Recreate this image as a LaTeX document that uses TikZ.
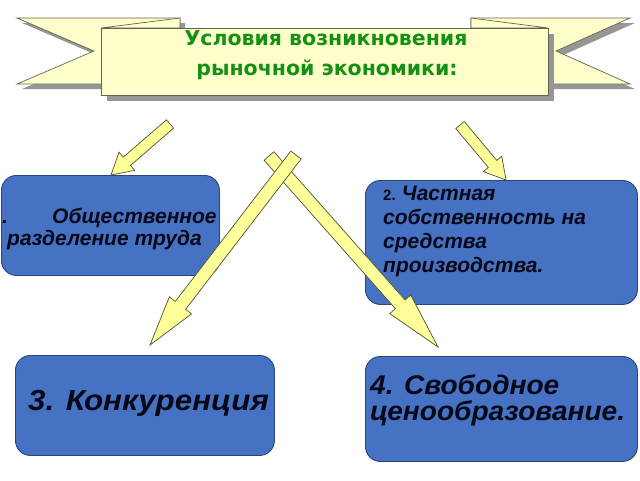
\documentclass[tikz,border=0pt]{standalone}
\usepackage{fontspec}
\setmainfont{Liberation Sans}
\newfontfamily\titlefont{DejaVu Sans}
\newfontfamily\bigfont[FakeStretch=1.08]{Liberation Sans}
\newfontfamily\wideboxfont[FakeStretch=1.04]{Liberation Sans}
\usetikzlibrary{calc}

\definecolor{boxblue}{RGB}{70,114,196}
\definecolor{boxedge}{RGB}{40,68,130}
\definecolor{arrowfill}{RGB}{255,255,153}
\definecolor{arrowedge}{RGB}{80,80,60}
\definecolor{bannerfill}{RGB}{255,255,204}
\definecolor{banneredge}{RGB}{100,100,80}
\definecolor{shadowgray}{RGB}{150,150,150}
\definecolor{titlegreen}{RGB}{20,145,20}
\definecolor{textdark}{RGB}{8,8,24}

\tikzset{
  banner/.style={fill=bannerfill, draw=banneredge, line width=0.7pt, line join=miter},
  bshadow/.style={fill=shadowgray, draw=none},
  bluebox/.style={fill=boxblue, draw=boxedge, line width=0.9pt, rounded corners=15pt, inner sep=0pt, anchor=north west},
  yarrow/.style={fill=arrowfill, draw=arrowedge, line width=0.7pt, line join=miter},
  titletext/.style={font=\titlefont\bfseries\fontsize{20.5}{28}\selectfont, text=titlegreen, inner sep=0pt, anchor=base},
  txt/.style={text=textdark, inner sep=0pt, anchor=base west},
  small/.style={txt, font=\bfseries\itshape\fontsize{21}{22}\selectfont},
  big/.style={txt, font=\bigfont\bfseries\itshape\fontsize{29}{30}\selectfont},
  wide/.style={txt, font=\wideboxfont\bfseries\itshape\fontsize{27}{28}\selectfont},
}

% #1 tail, #2 tip, #3 half shaft width, #4 half head width, #5 head length
\newcommand{\blockarr}[5]{%
  \coordinate (hb) at ($(#2)!#5!(#1)$);
  \draw[yarrow] ($(#1)!#3!90:(#2)$) -- ($(hb)!#3!90:(#2)$) -- ($(hb)!#4!90:(#2)$)
    -- (#2) -- ($(hb)!#4!-90:(#2)$) -- ($(hb)!#3!-90:(#2)$) -- ($(#1)!#3!-90:(#2)$) -- cycle;
}

\begin{document}
\begin{tikzpicture}[x=1pt,y=-1pt]
\useasboundingbox (0,0) rectangle (640,480);
\fill[white] (0,0) rectangle (640,480);

% ---- banner ----
\fill[bshadow, shift={(5,5)}] (17,18) -- (180,18) -- (180,84) -- (17,84) -- (94,51) -- cycle;
\draw[banner] (17,18) -- (180,18) -- (180,84) -- (17,84) -- (94,51) -- cycle;
\fill[bshadow, shift={(5,5)}] (471,18) -- (630,18) -- (556,51) -- (630,84) -- (471,84) -- cycle;
\draw[banner] (471,18) -- (630,18) -- (556,51) -- (630,84) -- (471,84) -- cycle;
\draw[banner] (101,28) -- (180,18) -- (180,28) -- cycle;
\draw[banner] (471,18) -- (548,28) -- (471,28) -- cycle;
\fill[bshadow] (107,34) rectangle (554,101);
\draw[banner] (101,28) rectangle (548,95);
\node[titletext] (title1) at (326,45) {Условия возникновения};
\node[titletext] (title2) at (327,75) {рыночной экономики:};

% ---- boxes ----
\node[bluebox, minimum width=218pt, minimum height=100pt] (box1) at (1,175) {};
\node[bluebox, minimum width=272pt, minimum height=124pt] (box2) at (365,180) {};
\node[bluebox, minimum width=259pt, minimum height=100pt] (box3) at (15,355) {};
\node[bluebox, minimum width=272pt, minimum height=105pt] (box4) at (365,356) {};

\node[small] (t1dot) at (2,223) {.};
\node[small] (t1a) at (52,223) {Общественное};
\node[small] (t1b) at (7,245) {разделение труда};

\node[txt, font=\bfseries\fontsize{15}{16}\selectfont] (t2n) at (383,200) {2.};
\node[small, anchor=base west] (t2a) at (t2n.base east) {\ Частная};
\node[small] (t2b) at (383,224) {собственность на};
\node[small] (t2c) at (383,248) {средства};
\node[small] (t2d) at (383,272) {производства.};

\node[big] (t3) at (28,410) {3. Конкуренция};

\node[wide] (t4a) at (370,394) {4. Свободное};
\node[wide] (t4b) at (370,420) {ценообразование.};

% ---- arrows ----
\coordinate (aAs) at (170,124);
\coordinate (aAe) at (111,175);
\coordinate (aBs) at (460,125);
\coordinate (aBe) at (506,180);
\coordinate (aCs) at (296,155);
\coordinate (aCe) at (150,345);
\coordinate (aDs) at (269,156);
\coordinate (aDe) at (438,347);

\blockarr{aAs}{aAe}{5.5pt}{12pt}{21pt}
\blockarr{aBs}{aBe}{5.5pt}{12pt}{21pt}
\blockarr{aDs}{aDe}{6.5pt}{14pt}{57pt}
\blockarr{aCs}{aCe}{6.5pt}{14pt}{50pt}
\end{tikzpicture}
\end{document}
